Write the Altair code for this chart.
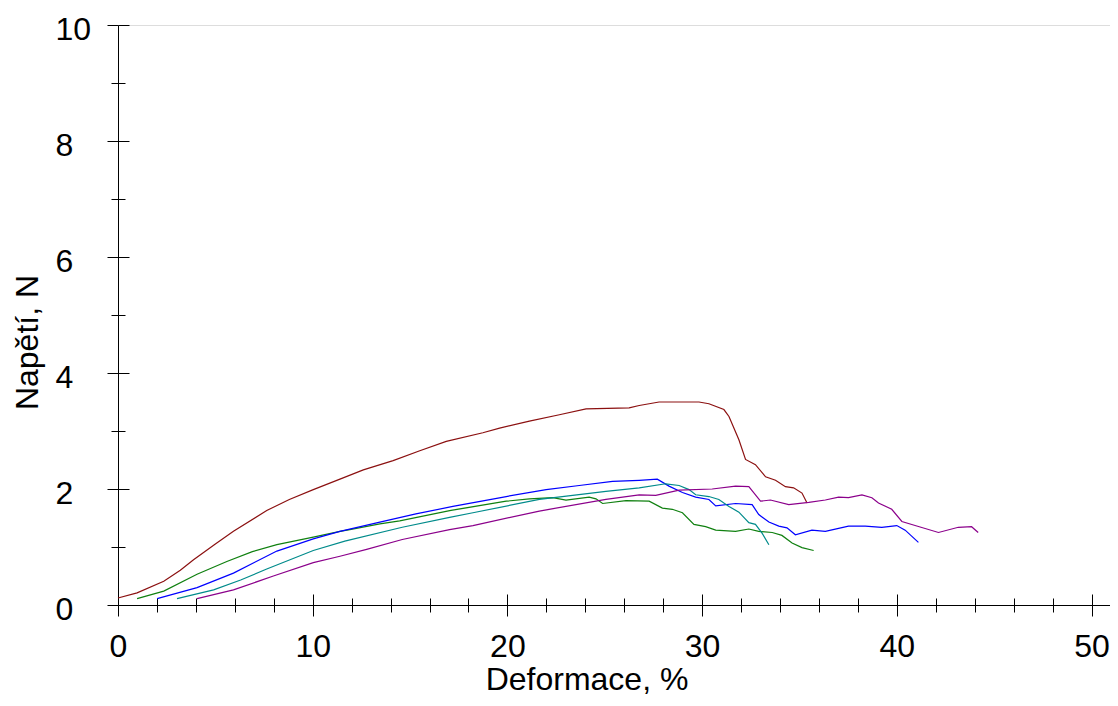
import altair as alt
import pandas as pd

# ---------------- data ----------------
series_names = ["A", "B", "C", "D", "E"]
series_colors = ["#8B1010", "#108010", "#0000FF", "#008B8B", "#8B008B"]

a_x = [0.0, 0.98, 2.35, 3.2, 3.88, 5.0, 5.93, 7.64, 8.8, 10.03, 11.4, 12.6, 14.13, 15.5,
       16.86, 18.74, 19.6, 21.13, 22.67, 24.04, 26.25, 26.77, 27.79, 29.84, 30.35, 31.12,
       31.38, 31.89, 32.23, 32.74, 33.26, 33.77, 34.28, 34.7, 35.13, 35.39]
a_y = [0.12, 0.21, 0.41, 0.6, 0.78, 1.05, 1.27, 1.63, 1.82, 1.99, 2.17, 2.33, 2.49, 2.66,
       2.82, 2.97, 3.05, 3.17, 3.28, 3.38, 3.40, 3.44, 3.50, 3.50, 3.47, 3.37,
       3.25, 2.85, 2.51, 2.42, 2.21, 2.15, 2.04, 2.02, 1.93, 1.76]

b_x = [0.98, 2.35, 4.06, 5.59, 6.9, 8.16, 10.03, 11.4, 11.91, 13.45, 14.47, 17.1, 19.94,
       21.13, 22.33, 23.01, 24.2, 24.55, 24.89, 26.09, 27.28, 27.96, 28.47, 28.99, 29.58,
       30.18, 30.7, 31.72, 32.4, 32.91, 33.6, 34.1, 34.62, 35.13, 35.73]
b_y = [0.11, 0.24, 0.53, 0.75, 0.92, 1.04, 1.17, 1.27, 1.30, 1.40, 1.45, 1.63, 1.79,
       1.83, 1.85, 1.81, 1.86, 1.83, 1.75, 1.80, 1.79, 1.67, 1.65, 1.59, 1.39,
       1.35, 1.29, 1.27, 1.31, 1.27, 1.25, 1.20, 1.07, 0.99, 0.94]

c_x = [2.01, 4.06, 5.93, 8.16, 10.03, 11.4, 13.45, 15.3, 17.2, 19.94, 21.99, 23.69, 25.4,
       26.77, 27.7, 28.3, 28.99, 29.67, 30.35, 30.7, 31.72, 32.57, 32.91, 33.43, 33.94,
       34.36, 34.79, 35.64, 36.33, 37.52, 38.38, 39.23, 40.0, 40.43, 41.11]
c_y = [0.11, 0.30, 0.55, 0.93, 1.14, 1.27, 1.43, 1.57, 1.70, 1.87, 1.99, 2.06, 2.13,
       2.15, 2.17, 2.05, 1.94, 1.86, 1.82, 1.71, 1.75, 1.73, 1.56, 1.43, 1.36,
       1.33, 1.21, 1.29, 1.27, 1.36, 1.36, 1.34, 1.37, 1.29, 1.08]

d_x = [3.03, 4.91, 6.3, 7.64, 10.03, 11.65, 14.6, 17.03, 18.23, 21.64, 25.06, 26.77, 28.13,
       28.82, 29.33, 29.67, 30.35, 30.86, 31.38, 31.89, 32.4, 32.74, 33.08, 33.43]
d_y = [0.11, 0.26, 0.43, 0.62, 0.94, 1.10, 1.34, 1.51, 1.59, 1.82, 1.96, 2.02, 2.09,
       2.06, 1.99, 1.90, 1.87, 1.82, 1.70, 1.60, 1.42, 1.39, 1.24, 1.04]

e_x = [4.06, 5.93, 7.98, 10.03, 11.4, 12.77, 14.6, 17.03, 18.23, 21.64, 25.06, 26.77, 27.62,
       28.82, 30.52, 31.72, 32.4, 33.0, 33.51, 34.45, 35.48, 36.33, 37.01, 37.52, 38.21,
       38.72, 39.06, 39.74, 40.26, 40.94, 42.14, 43.16, 43.84, 44.18]
e_y = [0.11, 0.26, 0.50, 0.73, 0.84, 0.96, 1.13, 1.30, 1.37, 1.62, 1.82, 1.90, 1.89,
       1.98, 2.00, 2.05, 2.04, 1.79, 1.81, 1.73, 1.77, 1.81, 1.86, 1.85, 1.90,
       1.85, 1.76, 1.65, 1.44, 1.37, 1.25, 1.34, 1.35, 1.25]

x_major = [0, 10, 20, 30, 40, 50]
x_minor = [2, 4, 6, 8, 12, 14, 16, 18, 22, 24, 26, 28, 32, 34, 36, 38, 42, 44, 46, 48]
y_major = [0, 2, 4, 6, 8, 10]
y_minor = [1, 3, 5, 7, 9]

x_title = "Deformace, %"
y_title = "Napětí, N"

# ---------------- table ----------------
rows = []
for name, xs_, ys_ in zip(series_names, [a_x, b_x, c_x, d_x, e_x], [a_y, b_y, c_y, d_y, e_y]):
    for i, (xv, yv) in enumerate(zip(xs_, ys_)):
        rows.append({"s": name, "i": i, "x": xv, "y": yv})
df = pd.DataFrame(rows)

W, H = 992, 580
FONT = "Liberation Sans"
xscale = alt.Scale(domain=[0, 50.95], nice=False, zero=False)
yscale = alt.Scale(domain=[0, 10], nice=False, zero=False)

common = dict(tickColor="black", tickWidth=1, domainColor="black", domainWidth=1,
              grid=False, labelFont=FONT, titleFont=FONT, labelColor="black",
              titleColor="black")


def bare_axis(values, orient, size, offset=0):
    return alt.Axis(values=values, orient=orient, tickSize=size, offset=offset,
                    labels=False, domain=False, title="", **common)


x_main_axis = alt.Axis(values=x_major, orient="bottom", tickSize=11, labelFontSize=32,
                       labelPadding=15, format="d", labelFlush=False, labelOverlap=False,
                       title=x_title, titleFontSize=32, titleFontWeight="normal",
                       titleX=468.5, titleY=84, titleAlign="center",
                       titleBaseline="alphabetic", domain=True, **common)
y_main_axis = alt.Axis(values=y_major, orient="left", tickSize=11, labelFontSize=32,
                       labelAlign="left", labelBaseline="middle", labelPadding=52,
                       labelOffset=4, format="d", labelFlush=False, labelOverlap=False,
                       title=y_title, titleFontSize=32, titleFontWeight="normal",
                       titleAngle=270, titleX=-81, titleY=317, titleAlign="center",
                       titleBaseline="alphabetic", domain=True, **common)

lines = alt.Chart(df).mark_line(strokeWidth=1.2).encode(
    x=alt.X("x:Q", scale=xscale, axis=x_main_axis),
    y=alt.Y("y:Q", scale=yscale, axis=y_main_axis),
    color=alt.Color("s:N", scale=alt.Scale(domain=series_names, range=series_colors),
                    legend=None),
    detail="s:N",
    order="i:Q",
)


def ghost(xaxis, yaxis):
    return alt.Chart(df).mark_line(opacity=0, strokeOpacity=0).encode(
        x=alt.X("x:Q", scale=xscale, axis=xaxis),
        y=alt.Y("y:Q", scale=yscale, axis=yaxis),
        detail="s:N",
        order="i:Q",
    )


minor_out = ghost(bare_axis(x_minor, "bottom", 7), bare_axis(y_minor, "left", 7))
major_in = ghost(bare_axis(x_major, "top", 11, -H), bare_axis(y_major, "right", 11, -W))
minor_in = ghost(bare_axis(x_minor, "top", 7, -H), bare_axis(y_minor, "right", 7, -W))

chart = alt.layer(lines, minor_out, major_in, minor_in).resolve_axis(
    x="independent", y="independent"
).properties(
    width=W, height=H,
    autosize=alt.AutoSizeParams(type="none"),
    padding={"left": 110, "top": 17, "right": 0, "bottom": 93},
).configure_view(strokeOpacity=0).configure(background="white")

chart.save("out.html", embed_options={"renderer": "svg", "actions": False})
